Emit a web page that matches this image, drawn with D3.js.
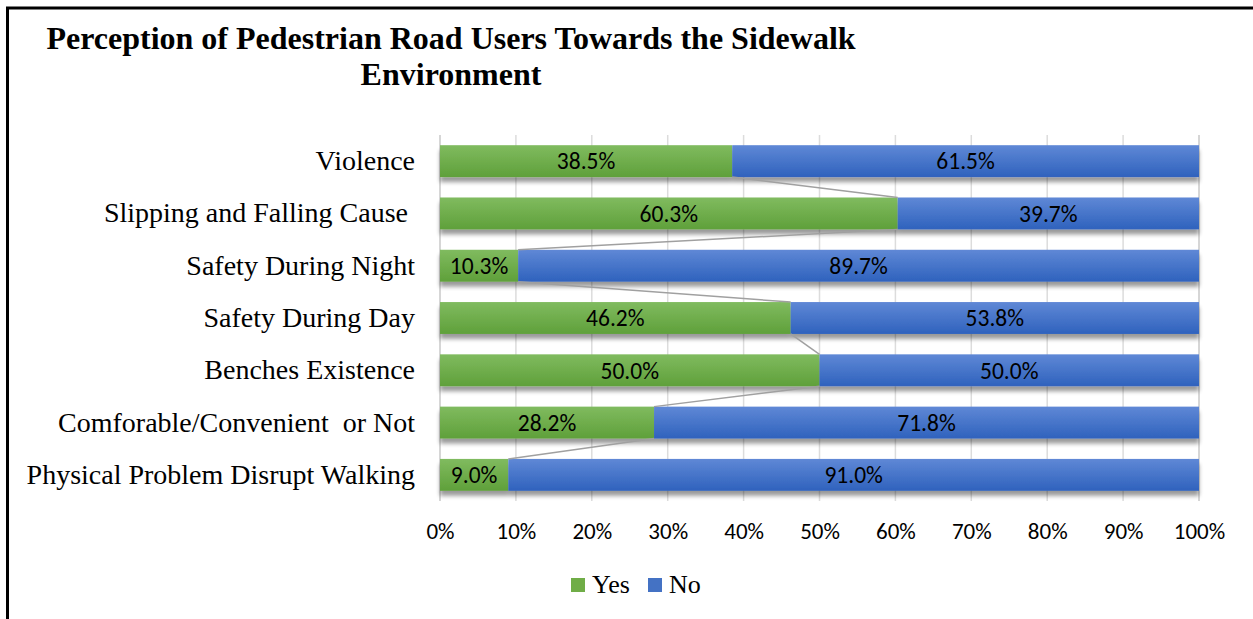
<!DOCTYPE html>
<html>
<head>
<meta charset="utf-8">
<script src="https://cdn.jsdelivr.net/npm/d3@7"></script>
<style>
  html, body { margin: 0; padding: 0; background: #fff; }
  svg { display: block; }
</style>
</head>
<body>
<svg id="chart" width="1253" height="619"></svg>
<script>
// Survey categories, top to bottom
const categories = [
  "Violence",
  "Slipping and Falling Cause ",
  "Safety During Night",
  "Safety During Day",
  "Benches Existence",
  "Comforable/Convenient  or Not",
  "Physical Problem Disrupt Walking"
];
// Share of answers (%)
const yesValues = [38.5, 60.3, 10.3, 46.2, 50.0, 28.2, 9.0];
const noValues  = [61.5, 39.7, 89.7, 53.8, 50.0, 71.8, 91.0];
const seriesNames = ["Yes", "No"];
const tickValues = [0, 10, 20, 30, 40, 50, 60, 70, 80, 90, 100];

const svg = d3.select("#chart");
const W = 1253, H = 619;
const plot = { left: 440, right: 1199, top: 135, bottom: 501 };

const serif = "'Liberation Serif', 'Times New Roman', serif";
const sans = "Carlito, 'Open Sans', 'Liberation Sans', sans-serif";

// Frame lines (top and left)
svg.append("line").attr("x1", 6).attr("x2", W).attr("y1", 8).attr("y2", 8)
  .attr("stroke", "#000").attr("stroke-width", 3);
svg.append("line").attr("x1", 7.5).attr("x2", 7.5).attr("y1", 7).attr("y2", H)
  .attr("stroke", "#000").attr("stroke-width", 3);

// Title
const title = svg.append("text")
  .attr("text-anchor", "middle")
  .attr("font-family", serif).attr("font-weight", "bold")
  .attr("font-size", 32).attr("fill", "#000");
title.append("tspan").attr("x", 451).attr("y", 49)
  .text("Perception of Pedestrian Road Users Towards the Sidewalk");
title.append("tspan").attr("x", 451).attr("y", 85).text("Environment");

const rows = categories.map((c, i) => ({ cat: c, yes: yesValues[i], no: noValues[i] }));

const x = d3.scaleLinear().domain([0, 100]).range([plot.left, plot.right]);
const y = d3.scaleBand().domain(categories).range([plot.top, plot.bottom]).paddingInner(0.39).paddingOuter(0.195);

// Gradients and shadow
const defs = svg.append("defs");
function grad(id, top, bottom) {
  const g = defs.append("linearGradient").attr("id", id)
    .attr("x1", 0).attr("y1", 0).attr("x2", 0).attr("y2", 1);
  g.append("stop").attr("offset", "0%").attr("stop-color", top);
  g.append("stop").attr("offset", "100%").attr("stop-color", bottom);
}
grad("gYes", "#80bb5f", "#5fa03a");
grad("gNo", "#5f88d6", "#2f62bd");
const f = defs.append("filter").attr("id", "shadow")
  .attr("x", "-5%").attr("y", "-20%").attr("width", "110%").attr("height", "160%");
f.append("feGaussianBlur").attr("in", "SourceAlpha").attr("stdDeviation", 2).attr("result", "b");
f.append("feOffset").attr("in", "b").attr("dx", 0).attr("dy", 5).attr("result", "o");
f.append("feComponentTransfer").attr("in", "o").attr("result", "s")
  .append("feFuncA").attr("type", "linear").attr("slope", 0.4);
const m = f.append("feMerge");
m.append("feMergeNode").attr("in", "s");
m.append("feMergeNode").attr("in", "SourceGraphic");

// Vertical gridlines
svg.append("g").selectAll("line").data(tickValues).join("line")
  .attr("x1", d => x(d)).attr("x2", d => x(d))
  .attr("y1", plot.top).attr("y2", plot.bottom)
  .attr("stroke", d => (d === 0 || d === 100) ? "#c8c8c8" : "#dcdcdc").attr("stroke-width", 1.5);

// Category axis
const yAxis = svg.append("g").attr("transform", `translate(${plot.left - 25},0)`)
  .call(d3.axisLeft(y).tickSize(0).tickPadding(0));
yAxis.select(".domain").remove();
yAxis.selectAll("text").attr("font-family", serif).attr("font-size", 28)
  .attr("fill", "#000").attr("dy", "0.32em").style("white-space", "pre");

// Value axis
const xAxis = svg.append("g").attr("transform", `translate(0,${plot.bottom})`)
  .call(d3.axisBottom(x).tickValues(tickValues).tickFormat(d => d + "%").tickSize(0).tickPadding(22));
xAxis.select(".domain").remove();
xAxis.selectAll("text").attr("font-family", sans).attr("font-size", 23).attr("fill", "#000");

// Bars
const bars = svg.append("g").attr("filter", "url(#shadow)");
bars.selectAll("rect.yes").data(rows).join("rect").attr("class", "yes")
  .attr("x", x(0)).attr("y", d => y(d.cat))
  .attr("width", d => x(d.yes) - x(0)).attr("height", y.bandwidth())
  .attr("fill", "url(#gYes)");
bars.selectAll("rect.no").data(rows).join("rect").attr("class", "no")
  .attr("x", d => x(d.yes)).attr("y", d => y(d.cat))
  .attr("width", d => x(d.yes + d.no) - x(d.yes)).attr("height", y.bandwidth())
  .attr("fill", "url(#gNo)");

// Series lines between consecutive bars
const pairs = d3.pairs(rows);
svg.append("g").selectAll("line").data(pairs).join("line")
  .attr("x1", d => x(d[0].yes)).attr("y1", d => y(d[0].cat) + y.bandwidth())
  .attr("x2", d => x(d[1].yes)).attr("y2", d => y(d[1].cat))
  .attr("stroke", "#a0a0a0").attr("stroke-width", 1.5);

// Data labels
const lbl = svg.append("g").attr("font-family", sans).attr("font-size", 23.5)
  .attr("fill", "#000").attr("text-anchor", "middle");
lbl.selectAll("text.yes").data(rows).join("text").attr("class", "yes")
  .attr("x", d => (x(0) + x(d.yes)) / 2).attr("y", d => y(d.cat) + y.bandwidth() / 2)
  .attr("dy", "0.35em").text(d => d.yes.toFixed(1) + "%");
lbl.selectAll("text.no").data(rows).join("text").attr("class", "no")
  .attr("x", d => (x(d.yes) + x(d.yes + d.no)) / 2).attr("y", d => y(d.cat) + y.bandwidth() / 2)
  .attr("dy", "0.35em").text(d => d.no.toFixed(1) + "%");

// Legend
const legendColors = ["#70ad47", "#4472c4"];
const legendX = [571, 648];
const lg = svg.append("g");
seriesNames.forEach((s, i) => {
  lg.append("rect").attr("x", legendX[i]).attr("y", 578).attr("width", 14).attr("height", 14)
    .attr("fill", legendColors[i]);
  lg.append("text").attr("x", legendX[i] + 21).attr("y", 593)
    .attr("font-family", serif).attr("font-size", 26).attr("fill", "#000").text(s);
});
</script>
</body>
</html>
